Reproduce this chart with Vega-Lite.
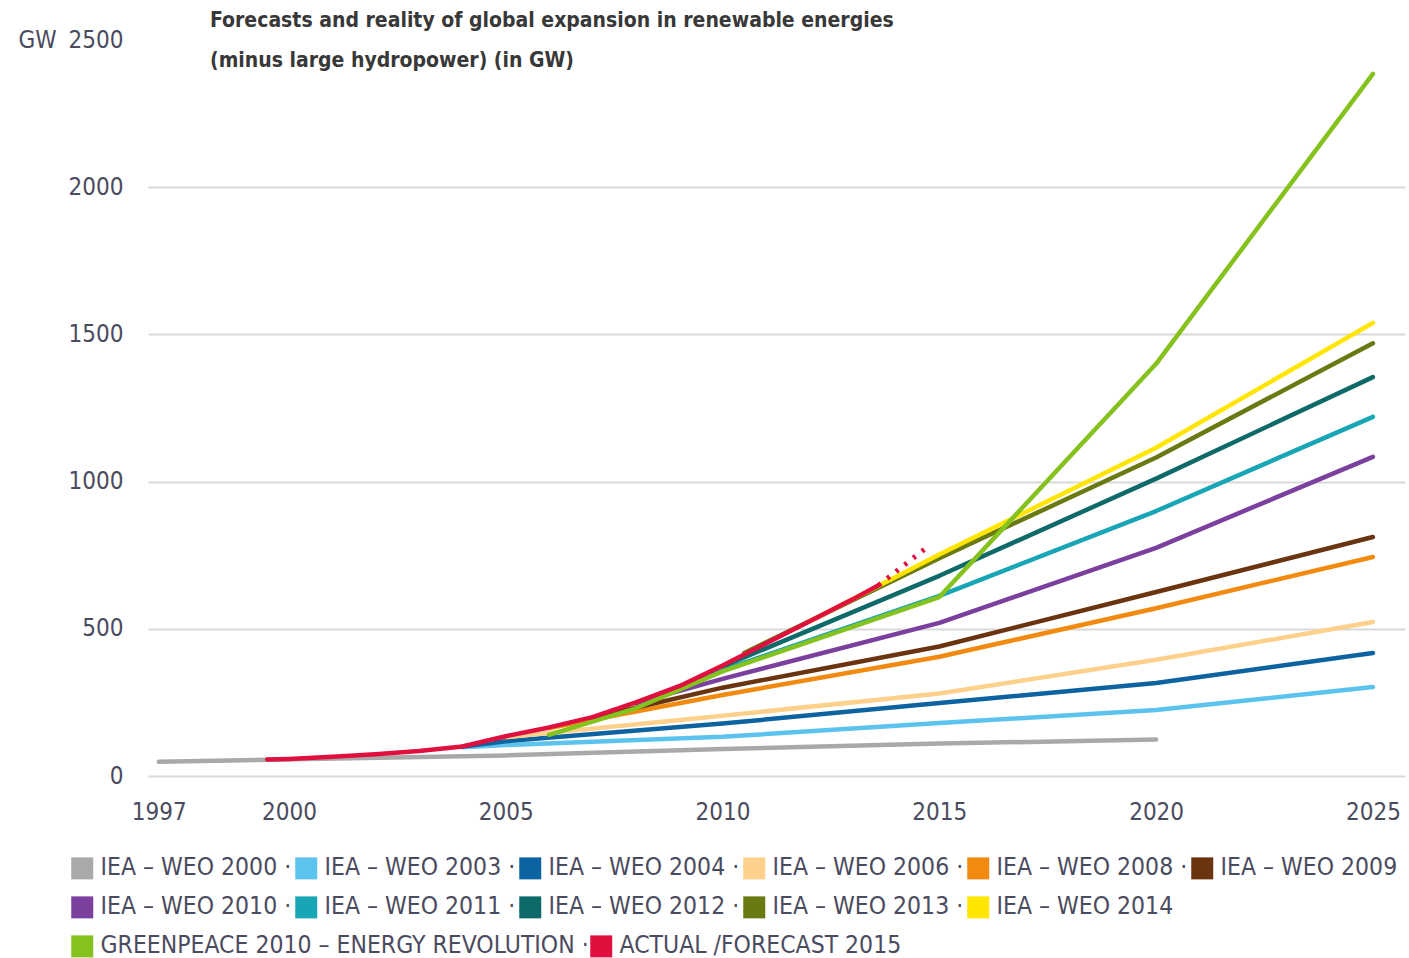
{
  "$schema": "https://vega.github.io/schema/vega-lite/v6.json",
  "width": 1257,
  "height": 736,
  "autosize": {"type": "none"},
  "padding": {"left": 148, "top": 40, "right": 4, "bottom": 182},
  "background": "white",
  "config": {
    "view": {"stroke": null},
    "font": "DejaVu Sans Condensed, sans-serif"
  },
  "title": {
    "text": ["Forecasts and reality of global expansion in renewable energies", "(minus large hydropower) (in GW)"],
    "anchor": "start",
    "frame": "group",
    "dx": 62,
    "offset": -64,
    "baseline": "bottom",
    "font": "DejaVu Sans Condensed, sans-serif",
    "fontSize": 21,
    "fontWeight": "bold",
    "color": "#383838",
    "lineHeight": 40
  },
  "datasets": {
    "series": [
      {"series": "IEA – WEO 2000", "year": 1997, "gw": 48, "part": "actual"},
      {"series": "IEA – WEO 2000", "year": 2005, "gw": 70, "part": "actual"},
      {"series": "IEA – WEO 2000", "year": 2010, "gw": 92, "part": "actual"},
      {"series": "IEA – WEO 2000", "year": 2015, "gw": 110, "part": "actual"},
      {"series": "IEA – WEO 2000", "year": 2020, "gw": 124, "part": "actual"},

      {"series": "IEA – WEO 2003", "year": 2004, "gw": 98, "part": "actual"},
      {"series": "IEA – WEO 2003", "year": 2005, "gw": 105, "part": "actual"},
      {"series": "IEA – WEO 2003", "year": 2010, "gw": 133, "part": "actual"},
      {"series": "IEA – WEO 2003", "year": 2015, "gw": 180, "part": "actual"},
      {"series": "IEA – WEO 2003", "year": 2020, "gw": 224, "part": "actual"},
      {"series": "IEA – WEO 2003", "year": 2025, "gw": 302, "part": "actual"},

      {"series": "IEA – WEO 2004", "year": 2004, "gw": 100, "part": "actual"},
      {"series": "IEA – WEO 2004", "year": 2005, "gw": 118, "part": "actual"},
      {"series": "IEA – WEO 2004", "year": 2010, "gw": 178, "part": "actual"},
      {"series": "IEA – WEO 2004", "year": 2015, "gw": 248, "part": "actual"},
      {"series": "IEA – WEO 2004", "year": 2020, "gw": 316, "part": "actual"},
      {"series": "IEA – WEO 2004", "year": 2025, "gw": 418, "part": "actual"},

      {"series": "IEA – WEO 2006", "year": 2005, "gw": 132, "part": "actual"},
      {"series": "IEA – WEO 2006", "year": 2010, "gw": 205, "part": "actual"},
      {"series": "IEA – WEO 2006", "year": 2015, "gw": 280, "part": "actual"},
      {"series": "IEA – WEO 2006", "year": 2020, "gw": 395, "part": "actual"},
      {"series": "IEA – WEO 2006", "year": 2025, "gw": 523, "part": "actual"},

      {"series": "IEA – WEO 2008", "year": 2006, "gw": 163, "part": "actual"},
      {"series": "IEA – WEO 2008", "year": 2010, "gw": 275, "part": "actual"},
      {"series": "IEA – WEO 2008", "year": 2015, "gw": 405, "part": "actual"},
      {"series": "IEA – WEO 2008", "year": 2020, "gw": 570, "part": "actual"},
      {"series": "IEA – WEO 2008", "year": 2025, "gw": 744, "part": "actual"},

      {"series": "IEA – WEO 2009", "year": 2007, "gw": 198, "part": "actual"},
      {"series": "IEA – WEO 2009", "year": 2010, "gw": 300, "part": "actual"},
      {"series": "IEA – WEO 2009", "year": 2015, "gw": 440, "part": "actual"},
      {"series": "IEA – WEO 2009", "year": 2020, "gw": 625, "part": "actual"},
      {"series": "IEA – WEO 2009", "year": 2025, "gw": 812, "part": "actual"},

      {"series": "IEA – WEO 2010", "year": 2008, "gw": 248, "part": "actual"},
      {"series": "IEA – WEO 2010", "year": 2010, "gw": 330, "part": "actual"},
      {"series": "IEA – WEO 2010", "year": 2015, "gw": 520, "part": "actual"},
      {"series": "IEA – WEO 2010", "year": 2020, "gw": 775, "part": "actual"},
      {"series": "IEA – WEO 2010", "year": 2025, "gw": 1084, "part": "actual"},

      {"series": "IEA – WEO 2011", "year": 2009, "gw": 303, "part": "actual"},
      {"series": "IEA – WEO 2011", "year": 2010, "gw": 360, "part": "actual"},
      {"series": "IEA – WEO 2011", "year": 2015, "gw": 612, "part": "actual"},
      {"series": "IEA – WEO 2011", "year": 2020, "gw": 900, "part": "actual"},
      {"series": "IEA – WEO 2011", "year": 2025, "gw": 1220, "part": "actual"},

      {"series": "IEA – WEO 2012", "year": 2010, "gw": 372, "part": "actual"},
      {"series": "IEA – WEO 2012", "year": 2015, "gw": 680, "part": "actual"},
      {"series": "IEA – WEO 2012", "year": 2020, "gw": 1010, "part": "actual"},
      {"series": "IEA – WEO 2012", "year": 2025, "gw": 1355, "part": "actual"},

      {"series": "IEA – WEO 2013", "year": 2010.5, "gw": 418, "part": "actual"},
      {"series": "IEA – WEO 2013", "year": 2015, "gw": 740, "part": "actual"},
      {"series": "IEA – WEO 2013", "year": 2020, "gw": 1082, "part": "actual"},
      {"series": "IEA – WEO 2013", "year": 2025, "gw": 1470, "part": "actual"},

      {"series": "IEA – WEO 2014", "year": 2012, "gw": 525, "part": "actual"},
      {"series": "IEA – WEO 2014", "year": 2015, "gw": 752, "part": "actual"},
      {"series": "IEA – WEO 2014", "year": 2020, "gw": 1115, "part": "actual"},
      {"series": "IEA – WEO 2014", "year": 2025, "gw": 1539, "part": "actual"},

      {"series": "GREENPEACE 2010 – ENERGY REVOLUTION", "year": 2006, "gw": 140, "part": "actual"},
      {"series": "GREENPEACE 2010 – ENERGY REVOLUTION", "year": 2008, "gw": 230, "part": "actual"},
      {"series": "GREENPEACE 2010 – ENERGY REVOLUTION", "year": 2010, "gw": 355, "part": "actual"},
      {"series": "GREENPEACE 2010 – ENERGY REVOLUTION", "year": 2015, "gw": 608, "part": "actual"},
      {"series": "GREENPEACE 2010 – ENERGY REVOLUTION", "year": 2020, "gw": 1400, "part": "actual"},
      {"series": "GREENPEACE 2010 – ENERGY REVOLUTION", "year": 2025, "gw": 2385, "part": "actual"},

      {"series": "ACTUAL /FORECAST 2015", "year": 1999.5, "gw": 56, "part": "actual"},
      {"series": "ACTUAL /FORECAST 2015", "year": 2000, "gw": 58, "part": "actual"},
      {"series": "ACTUAL /FORECAST 2015", "year": 2001, "gw": 65, "part": "actual"},
      {"series": "ACTUAL /FORECAST 2015", "year": 2002, "gw": 74, "part": "actual"},
      {"series": "ACTUAL /FORECAST 2015", "year": 2003, "gw": 85, "part": "actual"},
      {"series": "ACTUAL /FORECAST 2015", "year": 2004, "gw": 100, "part": "actual"},
      {"series": "ACTUAL /FORECAST 2015", "year": 2005, "gw": 135, "part": "actual"},
      {"series": "ACTUAL /FORECAST 2015", "year": 2006, "gw": 165, "part": "actual"},
      {"series": "ACTUAL /FORECAST 2015", "year": 2007, "gw": 200, "part": "actual"},
      {"series": "ACTUAL /FORECAST 2015", "year": 2008, "gw": 250, "part": "actual"},
      {"series": "ACTUAL /FORECAST 2015", "year": 2009, "gw": 305, "part": "actual"},
      {"series": "ACTUAL /FORECAST 2015", "year": 2010, "gw": 375, "part": "actual"},
      {"series": "ACTUAL /FORECAST 2015", "year": 2011, "gw": 450, "part": "actual"},
      {"series": "ACTUAL /FORECAST 2015", "year": 2012, "gw": 525, "part": "actual"},
      {"series": "ACTUAL /FORECAST 2015", "year": 2013, "gw": 600, "part": "actual"},
      {"series": "ACTUAL /FORECAST 2015", "year": 2013.6, "gw": 648, "part": "actual"},
      {"series": "ACTUAL /FORECAST 2015", "year": 2013.6, "gw": 648, "part": "forecast"},
      {"series": "ACTUAL /FORECAST 2015", "year": 2014.7, "gw": 775, "part": "forecast"}
    ]
  },
  "layer": [
    {
      "mark": {"type": "rule", "color": "#d9d9d9", "strokeWidth": 2},
      "encoding": {
        "x": {"datum": 1996.75, "type": "quantitative"},
        "x2": {"datum": 1997.95},
        "y": {"datum": 2500, "type": "quantitative"}
      }
    },
    {
      "mark": {"type": "rule", "color": "#d9d9d9", "strokeWidth": 2},
      "encoding": {
        "x": {"datum": 2014.51, "type": "quantitative"},
        "x2": {"datum": 2025.74},
        "y": {"datum": 2500, "type": "quantitative"}
      }
    },
    {
      "data": {"name": "series"},
      "transform": [{"filter": {"field": "series", "oneOf": ["IEA – WEO 2000", "IEA – WEO 2003", "IEA – WEO 2004", "IEA – WEO 2006", "IEA – WEO 2008", "IEA – WEO 2009"]}}],
      "mark": {"type": "line", "strokeWidth": 4.5, "strokeCap": "round", "strokeJoin": "round"},
      "encoding": {
        "x": {
          "field": "year", "type": "quantitative",
          "scale": {"domain": [1996.75, 2025.74], "nice": false, "zero": false},
          "axis": {
            "values": [1997, 2000, 2005, 2010, 2015, 2020, 2025],
            "format": "d", "title": null, "grid": false, "domain": false, "ticks": false,
            "labelPadding": 24, "labelFontSize": 24, "labelColor": "#4b4b60",
            "labelFont": "DejaVu Sans Condensed, sans-serif"
          }
        },
        "y": {
          "field": "gw", "type": "quantitative",
          "scale": {"domain": [0, 2500], "nice": false},
          "axis": {
            "values": [0, 500, 1000, 1500, 2000, 2500],
            "format": "d",
            "title": "GW", "titleAngle": 0, "titleAlign": "left", "titleBaseline": "middle",
            "titleX": -130, "titleY": 0, "titleFontSize": 24, "titleFontWeight": "normal", "titleColor": "#4b4b60",
            "titleFont": "DejaVu Sans Condensed, sans-serif",
            "domain": false, "ticks": false, "labelPadding": 25, "labelFontSize": 24, "labelColor": "#4b4b60",
            "labelFont": "DejaVu Sans Condensed, sans-serif",
            "grid": true, "gridWidth": 2,
            "gridColor": {"condition": {"test": "datum.value == 2500", "value": "transparent"}, "value": "#d9d9d9"}
          }
        },
        "color": {
          "field": "series", "type": "nominal",
          "scale": {
            "domain": ["IEA – WEO 2000", "IEA – WEO 2003", "IEA – WEO 2004", "IEA – WEO 2006", "IEA – WEO 2008", "IEA – WEO 2009"],
            "range": ["#a9a9a9", "#5cc3ee", "#0d62a0", "#fdd08c", "#f28a10", "#6a3410"]
          },
          "legend": {
            "orient": "none", "legendX": -78, "legendY": 816, "direction": "horizontal", "columns": 6,
            "title": null, "symbolType": "square", "symbolSize": 121, "symbolStrokeWidth": 11, "symbolOpacity": 1,
            "labelFontSize": 24.5, "labelColor": "#4b4b60", "labelOffset": 6, "columnPadding": -14, "labelLimit": 0,
            "labelFont": "DejaVu Sans Condensed, sans-serif",
            "labelExpr": "datum.label == 'IEA – WEO 2009' ? datum.label : datum.label + ' ·'"
          }
        }
      }
    },
    {
      "data": {"name": "series"},
      "transform": [{"filter": {"field": "series", "oneOf": ["IEA – WEO 2010", "IEA – WEO 2011", "IEA – WEO 2012", "IEA – WEO 2013", "IEA – WEO 2014"]}}],
      "mark": {"type": "line", "strokeWidth": 4.5, "strokeCap": "round", "strokeJoin": "round"},
      "encoding": {
        "x": {"field": "year", "type": "quantitative"},
        "y": {"field": "gw", "type": "quantitative"},
        "color": {
          "field": "series", "type": "nominal",
          "scale": {
            "domain": ["IEA – WEO 2010", "IEA – WEO 2011", "IEA – WEO 2012", "IEA – WEO 2013", "IEA – WEO 2014"],
            "range": ["#7b3f9d", "#18a5b6", "#0e6a69", "#6a7912", "#ffe500"]
          },
          "legend": {
            "orient": "none", "legendX": -78, "legendY": 855, "direction": "horizontal", "columns": 5,
            "title": null, "symbolType": "square", "symbolSize": 121, "symbolStrokeWidth": 11, "symbolOpacity": 1,
            "labelFontSize": 24.5, "labelColor": "#4b4b60", "labelOffset": 6, "columnPadding": -14, "labelLimit": 0,
            "labelFont": "DejaVu Sans Condensed, sans-serif",
            "labelExpr": "datum.label == 'IEA – WEO 2014' ? datum.label : datum.label + ' ·'"
          }
        }
      }
    },
    {
      "data": {"name": "series"},
      "transform": [
        {"filter": {"field": "series", "oneOf": ["GREENPEACE 2010 – ENERGY REVOLUTION", "ACTUAL /FORECAST 2015"]}},
        {"filter": {"field": "part", "equal": "actual"}}
      ],
      "mark": {"type": "line", "strokeWidth": 4.5, "strokeCap": "round", "strokeJoin": "round"},
      "encoding": {
        "x": {"field": "year", "type": "quantitative"},
        "y": {"field": "gw", "type": "quantitative"},
        "color": {
          "field": "series", "type": "nominal",
          "scale": {
            "domain": ["GREENPEACE 2010 – ENERGY REVOLUTION", "ACTUAL /FORECAST 2015"],
            "range": ["#86c21e", "#e0103e"]
          },
          "legend": {
            "orient": "none", "legendX": -78, "legendY": 894, "direction": "horizontal", "columns": 2,
            "title": null, "symbolType": "square", "symbolSize": 121, "symbolStrokeWidth": 11, "symbolOpacity": 1,
            "labelFontSize": 24.5, "labelColor": "#4b4b60", "labelOffset": 6, "columnPadding": -20, "labelLimit": 0,
            "labelFont": "DejaVu Sans Condensed, sans-serif",
            "labelExpr": "datum.label == 'ACTUAL /FORECAST 2015' ? datum.label : datum.label + ' ·'"
          }
        }
      }
    },
    {
      "data": {"name": "series"},
      "transform": [{"filter": {"field": "part", "equal": "forecast"}}],
      "mark": {"type": "line", "strokeWidth": 5, "color": "#e0103e", "strokeDash": [3, 8], "strokeCap": "butt"},
      "encoding": {
        "x": {"field": "year", "type": "quantitative"},
        "y": {"field": "gw", "type": "quantitative"}
      }
    }
  ],
  "resolve": {"scale": {"color": "independent"}, "legend": {"color": "independent"}}
}
